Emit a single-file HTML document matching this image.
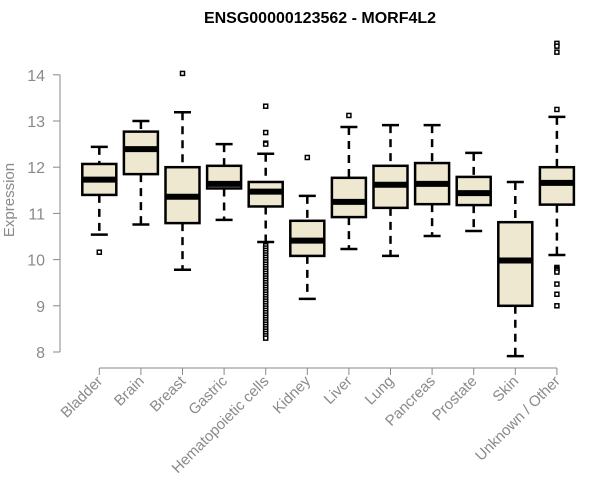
<!DOCTYPE html>
<html><head><meta charset="utf-8"><style>
body{margin:0;background:#fff;}
svg{display:block;font-family:"Liberation Sans",sans-serif;}
</style></head><body>
<svg id="chart" width="600" height="500">
<text x="320" y="23" text-anchor="middle" font-weight="bold" font-size="16">ENSG00000123562 - MORF4L2</text>
<text transform="translate(14,200) rotate(-90)" text-anchor="middle" font-size="15" fill="#8a8a8a">Expression</text>
<g id="yaxis"></g>
<g id="xaxis"></g>
<g id="boxes"></g>
</svg>
<script>
const categories=["Bladder","Brain","Breast","Gastric","Hematopoietic cells","Kidney","Liver","Lung","Pancreas","Prostate","Skin","Unknown / Other"];
const whiskerHigh=[12.44,13.0,13.19,12.5,12.29,11.38,12.87,12.91,12.91,12.31,11.68,13.09];
const q3Values=[12.07,12.77,12.0,12.03,11.68,10.84,11.77,12.03,12.09,11.79,10.81,12.0];
const medians=[11.73,12.39,11.36,11.64,11.47,10.41,11.25,11.62,11.64,11.44,9.98,11.66];
const q1Values=[11.40,11.85,10.79,11.54,11.15,10.08,10.92,11.12,11.2,11.18,9.0,11.19];
const whiskerLow=[10.54,10.76,9.78,10.86,10.38,9.15,10.23,10.08,10.51,10.62,7.91,10.1];
const outliers=[[10.16],[],[14.03],[],[13.32,12.75,12.52,12.5,10.3,10.25,10.2,10.15,10.1,10.05,10.0,9.95,9.9,9.85,9.8,9.75,9.7,9.65,9.6,9.55,9.5,9.45,9.4,9.35,9.3,9.25,9.2,9.15,9.1,9.05,9.0,8.95,8.9,8.85,8.8,8.75,8.7,8.65,8.6,8.55,8.5,8.45,8.4,8.35,8.3],[12.21],[13.12],[],[],[],[],[14.68,14.62,14.49,13.25,9.83,9.8,9.77,9.73,9.47,9.25,9.0]];
const yTicks=[8,9,10,11,12,13,14];
const NS="http://www.w3.org/2000/svg";
const y=v=>352-(v-8)*46.2;
const x=i=>99.3+41.6*i;
function mk(tag,attrs,parent){const e=document.createElementNS(NS,tag);for(const k in attrs)e.setAttribute(k,attrs[k]);parent.appendChild(e);return e;}
const ya=document.getElementById('yaxis');
mk('line',{x1:60,x2:60,y1:y(14),y2:y(8),stroke:'#888'},ya);
yTicks.forEach(t=>{
 mk('line',{x1:53,x2:60,y1:y(t),y2:y(t),stroke:'#888'},ya);
 const tx=mk('text',{x:45,y:y(t)+6,'text-anchor':'end','font-size':16,fill:'#8a8a8a'},ya);
 tx.textContent=t;
 
 
});
const xa=document.getElementById('xaxis');
mk('line',{x1:x(0),x2:x(11),y1:368,y2:368,stroke:'#888'},xa);
const bg=document.getElementById('boxes');
categories.forEach((c,i)=>{
 const cx=x(i);
 mk('line',{x1:cx,x2:cx,y1:368,y2:375,stroke:'#888'},xa);
 const tx=mk('text',{transform:`translate(${cx+4},${382}) rotate(-45)`,'text-anchor':'end','font-size':15,fill:'#8a8a8a'},xa);
 tx.textContent=c;
 
 
 const g=mk('g',{},bg);
 
 
 const st={stroke:'#000','stroke-width':2.5};
 mk('line',Object.assign({x1:cx,x2:cx,y1:y(whiskerHigh[i]),y2:y(q3Values[i]),'stroke-dasharray':'8,6'},st),g);
 mk('line',Object.assign({x1:cx,x2:cx,y1:y(q1Values[i]),y2:y(whiskerLow[i]),'stroke-dasharray':'8,6'},st),g);
 mk('line',Object.assign({x1:cx-8.5,x2:cx+8.5,y1:y(whiskerHigh[i]),y2:y(whiskerHigh[i])},st),g);
 mk('line',Object.assign({x1:cx-8.5,x2:cx+8.5,y1:y(whiskerLow[i]),y2:y(whiskerLow[i])},st),g);
 mk('rect',{x:cx-17,y:y(q3Values[i]),width:34,height:y(q1Values[i])-y(q3Values[i]),fill:'#ede8cf',stroke:'#000','stroke-width':2.5},g);
 mk('line',{x1:cx-17,x2:cx+17,y1:y(medians[i]),y2:y(medians[i]),stroke:'#000','stroke-width':6},g);
 outliers[i].forEach(v=>{
  const r=mk('rect',{x:cx-2,y:y(v)-2,width:4,height:4,fill:'#fff',stroke:'#000','stroke-width':1.5},g);
  
  
 });
});
</script>
</body></html>
